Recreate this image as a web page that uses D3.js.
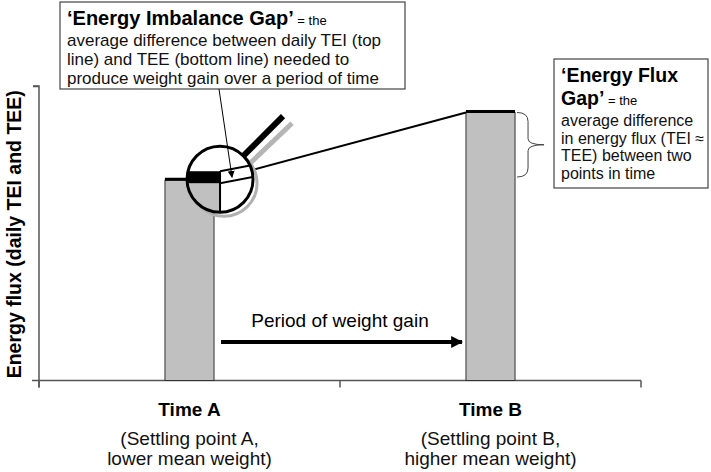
<!DOCTYPE html>
<html><head><meta charset="utf-8">
<script src="https://cdn.jsdelivr.net/npm/d3@7"></script>
<style>body{margin:0;background:#fff}svg{display:block;font-family:"Liberation Sans",Arial,sans-serif}</style>
</head><body><svg id="c" width="711" height="472"></svg>
<script>
const categories = ["Time A", "Time B"];
const subLabels = [["(Settling point A,", "lower mean weight)"], ["(Settling point B,", "higher mean weight)"]];
const energyFlux = [68, 91];          // relative daily TEI ≈ TEE at each settling point
const imbalanceGap = 4;               // TEI - TEE gap shown (magnified) in the circle
const yTicks = [0, 100];
const yLabel = "Energy flux (daily TEI and TEE)";
const periodLabel = "Period of weight gain";
const box1Title = "‘Energy Imbalance Gap’", box1Eq = " = the";
const box1Lines = ["average difference between daily TEI (top", "line) and TEE (bottom line) needed to", "produce weight gain over a period of time"];
const box2Title = ["‘Energy Flux", "Gap’"], box2Eq = " = the";
const box2Lines = ["average difference", "in energy flux (TEI ≈", "TEE) between two", "points in time"];

const svg = d3.select("#c");
const m = {left: 39, right: 70, top: 86, bottom: 91.5};
const W = 711, H = 472;
const x = d3.scaleBand().domain(categories).range([m.left, W - m.right]).padding(0);
const y = d3.scaleLinear().domain([0, 100]).range([H - m.bottom, m.top]);
const barW = x.bandwidth() * 0.163;
const axisColor = "#555";

// axes
const xAxisG = svg.append("g").attr("transform", `translate(0,${y(0)})`);
xAxisG.append("line").attr("x1", m.left - 7).attr("x2", x.range()[1]).attr("stroke", axisColor).attr("stroke-width", 1.5);
const edges = categories.map(c => x(c)).concat([x.range()[1]]);
xAxisG.selectAll("line.t").data(edges).join("line").attr("class", "t")
  .attr("x1", d => d).attr("x2", d => d).attr("y1", 0).attr("y2", 7).attr("stroke", axisColor).attr("stroke-width", 1.5);
const yAxis = d3.axisLeft(y).tickValues(yTicks).tickSize(6).tickFormat("");
const yg = svg.append("g").attr("transform", `translate(${m.left},0)`).call(yAxis);
yg.select(".domain").attr("d", `M-6,${y(100)}H0V${y(0) + 7}`).attr("stroke", axisColor).attr("stroke-width", 1.5).attr("fill", "none");
yg.selectAll(".tick line").attr("stroke", axisColor).attr("stroke-width", 1.5);
yg.selectAll(".tick").filter(d => d === 0).remove();

// bars
const bx = c => x(c) + x.bandwidth() / 2 - barW / 2;
svg.selectAll("rect.bar").data(categories).join("rect").attr("class", "bar")
  .attr("x", bx).attr("width", barW)
  .attr("y", (c, i) => y(energyFlux[i])).attr("height", (c, i) => y(0) - y(energyFlux[i]))
  .attr("fill", "#c0c0c0").attr("stroke", "#333").attr("stroke-width", 1);
svg.selectAll("line.top").data(categories).join("line").attr("class", "top")
  .attr("x1", bx).attr("x2", c => bx(c) + barW)
  .attr("y1", (c, i) => y(energyFlux[i]) - 1).attr("y2", (c, i) => y(energyFlux[i]) - 1)
  .attr("stroke", "#000").attr("stroke-width", 3);

// connecting line A -> B
const ax = bx(categories[0]) + barW, ay = y(energyFlux[0]);
const bX = bx(categories[1]), bY = y(energyFlux[1]);
svg.append("line").attr("x1", ax).attr("y1", ay).attr("x2", bX).attr("y2", bY).attr("stroke", "#000").attr("stroke-width", 2);

// magnifier
const cx = ax + 6, cy = ay - 1, r = 33;
const hd = r / Math.SQRT2;
svg.append("line").attr("x1", cx + hd + 6).attr("y1", cy - hd + 8).attr("x2", cx + 72).attr("y2", cy - 56)
  .attr("stroke", "#b5b5b5").attr("stroke-width", 5);
svg.append("circle").attr("cx", cx + 4).attr("cy", cy + 4).attr("r", r).attr("fill", "none").attr("stroke", "#b0b0b0").attr("stroke-width", 3);
svg.append("line").attr("x1", cx + hd).attr("y1", cy - hd).attr("x2", cx + 63).attr("y2", cy - 63)
  .attr("stroke", "#000").attr("stroke-width", 6);
svg.append("defs").append("clipPath").attr("id", "mag").append("circle").attr("cx", cx).attr("cy", cy).attr("r", r);
svg.append("circle").attr("cx", cx).attr("cy", cy).attr("r", r).attr("fill", "#fff");
const mg = svg.append("g").attr("clip-path", "url(#mag)");
const gapPx = imbalanceGap * 3;          // magnified gap
const topY = cy - gapPx + 4, botY = cy + 4;
mg.append("rect").attr("x", cx - r).attr("y", botY).attr("width", r).attr("height", r).attr("fill", "#c0c0c0");
mg.append("rect").attr("x", cx - r).attr("y", topY).attr("width", r).attr("height", botY - topY).attr("fill", "#000");
mg.append("line").attr("x1", cx).attr("x2", cx).attr("y1", topY).attr("y2", cy + r).attr("stroke", "#000").attr("stroke-width", 2);
const slope = (bY - ay) / (bX - ax) * 0.7;
[topY, botY].forEach(yy => mg.append("line").attr("x1", cx).attr("y1", yy).attr("x2", cx + r + 2).attr("y2", yy + slope * (r + 2))
  .attr("stroke", "#000").attr("stroke-width", 2));
svg.append("circle").attr("cx", cx).attr("cy", cy).attr("r", r).attr("fill", "none").attr("stroke", "#000").attr("stroke-width", 3);

// arrow markers
const defs = svg.select("defs");
defs.append("marker").attr("id", "thin").attr("viewBox", "0 0 10 10").attr("refX", 9).attr("refY", 5)
  .attr("markerWidth", 7).attr("markerHeight", 7).attr("markerUnits", "userSpaceOnUse").attr("orient", "auto")
  .append("path").attr("d", "M0,0L10,5L0,10z").attr("fill", "#000");
defs.append("marker").attr("id", "thick").attr("viewBox", "0 0 10 10").attr("refX", 9).attr("refY", 5)
  .attr("markerWidth", 12).attr("markerHeight", 12).attr("markerUnits", "userSpaceOnUse").attr("orient", "auto")
  .append("path").attr("d", "M0,0L10,5L0,10z").attr("fill", "#000");

// box 1
const b1 = {x: 60, y: 2, w: 345, h: 87};
svg.append("rect").attr("x", b1.x).attr("y", b1.y).attr("width", b1.w).attr("height", b1.h).attr("fill", "#fff").attr("stroke", "#444").attr("stroke-width", 1.2);
svg.append("line").attr("x1", 219).attr("y1", b1.y + b1.h).attr("x2", cx + 12).attr("y2", cy - 2)
  .attr("stroke", "#000").attr("stroke-width", 1).attr("marker-end", "url(#thin)");
const t1 = svg.append("text").attr("x", 67).attr("y", 25).attr("fill", "#000");
t1.append("tspan").attr("font-weight", "bold").attr("font-size", 20).text(box1Title);
t1.append("tspan").attr("font-size", 13).text(box1Eq);
box1Lines.forEach((s, i) => svg.append("text").attr("x", 67).attr("y", 46 + i * 19).attr("font-size", 17).attr("fill", "#111").text(s));

// box 2
const b2 = {x: 554, y: 59, w: 154, h: 129};
svg.append("rect").attr("x", b2.x).attr("y", b2.y).attr("width", b2.w).attr("height", b2.h).attr("fill", "#fff").attr("stroke", "#444").attr("stroke-width", 1.2);
svg.append("text").attr("x", 561).attr("y", 82).attr("font-weight", "bold").attr("font-size", 19.5).text(box2Title[0]);
const t2 = svg.append("text").attr("x", 561).attr("y", 104.5);
t2.append("tspan").attr("font-weight", "bold").attr("font-size", 19.5).text(box2Title[1]);
t2.append("tspan").attr("font-size", 13).text(box2Eq);
box2Lines.forEach((s, i) => svg.append("text").attr("x", 561).attr("y", 126 + i * 17.5).attr("font-size", 16).attr("fill", "#111").text(s));

// brace
const bt = bY, bb = 177, bm = (bt + bb) / 2, bxl = bX + barW + 2;
svg.append("path").attr("d",
  `M${bxl},${bt} Q${bxl + 11},${bt} ${bxl + 11},${bt + 9} L${bxl + 11},${bm - 6} Q${bxl + 11},${bm} ${bxl + 27},${bm} ` +
  `Q${bxl + 11},${bm} ${bxl + 11},${bm + 6} L${bxl + 11},${bb - 9} Q${bxl + 11},${bb} ${bxl},${bb}`)
  .attr("fill", "none").attr("stroke", "#444").attr("stroke-width", 1);

// period arrow
svg.append("line").attr("x1", ax + 7).attr("y1", 342).attr("x2", bX - 4).attr("y2", 342)
  .attr("stroke", "#000").attr("stroke-width", 4).attr("marker-end", "url(#thick)");
svg.append("text").attr("x", (ax + bX) / 2).attr("y", 327).attr("text-anchor", "middle").attr("font-size", 19).text(periodLabel);

// x labels
const xl = svg.append("g");
categories.forEach((c, i) => {
  const cxl = x(c) + x.bandwidth() / 2;
  xl.append("text").attr("x", cxl).attr("y", 416).attr("text-anchor", "middle").attr("font-weight", "bold").attr("font-size", 19).text(c);
  subLabels[i].forEach((s, j) => xl.append("text").attr("x", cxl).attr("y", 445 + j * 20).attr("text-anchor", "middle").attr("font-size", 19).attr("fill", "#111").text(s));
});

// y label
svg.append("text").attr("transform", `translate(14,${(y(0) + y(100)) / 2 + 1}) rotate(-90)`)
  .attr("text-anchor", "middle").attr("dominant-baseline", "central").attr("font-weight", "bold").attr("font-size", 19.5).text(yLabel);
</script></body></html>
